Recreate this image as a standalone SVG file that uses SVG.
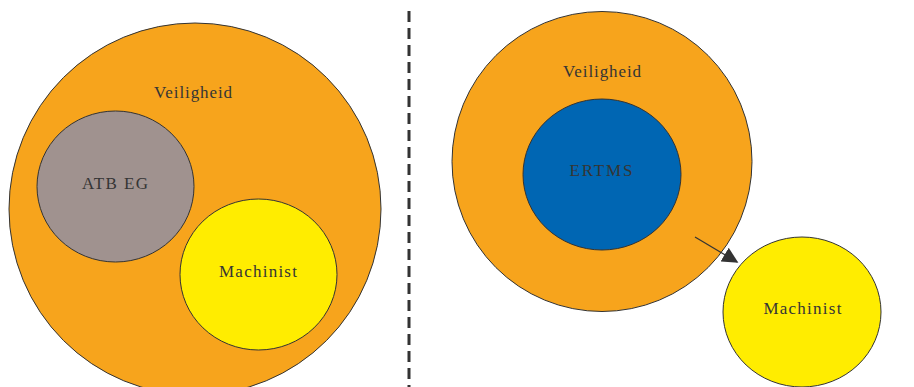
<svg xmlns="http://www.w3.org/2000/svg" width="914" height="387" viewBox="0 0 914 387">
<style>
.c{stroke:#333;stroke-width:1}
.o{fill:#F7A41C}.g{fill:#A0928F}.y{fill:#FFED00}.b{fill:#0066B3}
text{font-family:"Liberation Serif","Times New Roman",serif;font-size:17px;fill:#353535;text-anchor:middle}
</style>
<defs>
<marker id="ah" viewBox="0 0 10 10" refX="9" refY="5" markerWidth="16" markerHeight="16" markerUnits="userSpaceOnUse" orient="auto">
<path d="M0,0 L10,5 L0,10 Z" fill="#333"/>
</marker>
</defs>
<rect width="914" height="387" fill="#fff"/>
<g id="left-veiligheid"><ellipse class="c o" cx="195" cy="209" rx="186" ry="186"/><text x="193.5" y="98" letter-spacing="0.9">Veiligheid</text></g>
<g id="left-atb"><ellipse class="c g" cx="115.5" cy="186.5" rx="78.5" ry="75.5"/><text x="115.7" y="189" letter-spacing="1.4">ATB EG</text></g>
<g id="left-machinist"><ellipse class="c y" cx="258.5" cy="274.5" rx="78.5" ry="75.5"/><text x="258.6" y="277" letter-spacing="1.25">Machinist</text></g>
<g id="divider"><line x1="409" y1="11" x2="409" y2="387" stroke="#333" stroke-width="3" stroke-dasharray="11 6"/></g>
<g id="right-veiligheid"><circle class="c o" cx="602" cy="161.5" r="150"/><text x="602.5" y="77" letter-spacing="0.9">Veiligheid</text></g>
<g id="right-ertms"><ellipse class="c b" cx="602" cy="174.5" rx="79" ry="75.5"/><text x="601.9" y="176" letter-spacing="1.8">ERTMS</text></g>
<g id="right-machinist"><ellipse class="c y" cx="802" cy="312" rx="79" ry="75"/><text x="803" y="314" letter-spacing="1.25">Machinist</text></g>
<g id="connectors"><line x1="695" y1="237" x2="737" y2="262" stroke="#333" stroke-width="1.2" marker-end="url(#ah)"/></g>
</svg>
